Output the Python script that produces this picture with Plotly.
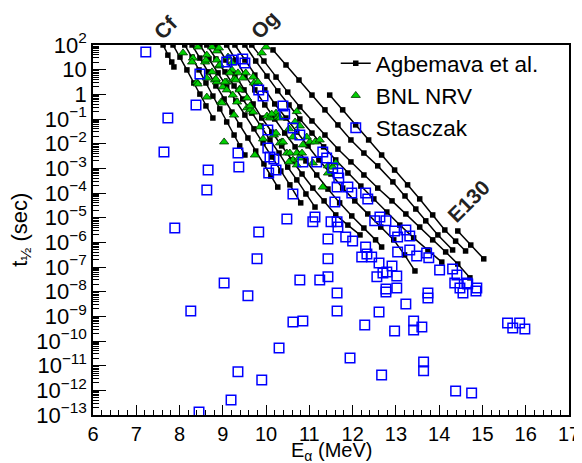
import plotly.graph_objects as go

# ---------------- Agbemava et al. isotopic chains (E_alpha [MeV], log10 t1/2 [s]) ----------------
chain_01_E = [7.62, 7.73, 7.82, 7.87]
chain_01_logt = [2.0, 1.59, 1.31, 1.11]
chain_02_E = [7.85, 8.01, 8.17, 8.33, 8.47, 8.61, 8.77]
chain_02_logt = [2.0, 1.51, 0.99, 0.46, 0.01, -0.47, -0.96]
chain_03_E = [8.12, 8.29, 8.45, 8.61, 8.77, 8.93, 9.09, 9.26, 9.39, 9.51]
chain_03_logt = [2.0, 1.51, 0.99, 0.46, -0.07, -0.59, -1.12, -1.65, -2.09, -2.46]
chain_04_E = [8.29, 8.47, 8.66, 8.84, 9.03, 9.21, 9.39, 9.58, 9.76, 9.95, 10.11, 10.27]
chain_04_logt = [2.0, 1.47, 0.91, 0.34, -0.19, -0.72, -1.24, -1.77, -2.30, -2.82, -3.31, -3.76]
chain_05_E = [8.47, 8.68, 8.89, 9.09, 9.30, 9.51, 9.72, 9.93, 10.13, 10.34, 10.55, 10.80]
chain_05_logt = [2.0, 1.43, 0.87, 0.30, -0.27, -0.84, -1.40, -1.97, -2.54, -3.11, -3.67, -4.40]
chain_06_E = [8.63, 8.84, 9.05, 9.26, 9.46, 9.67, 9.88, 10.09, 10.30, 10.50, 10.71, 10.92, 11.13]
chain_06_logt = [2.0, 1.43, 0.91, 0.34, -0.19, -0.76, -1.28, -1.85, -2.38, -2.95, -3.47, -4.04, -4.57]
chain_07_E = [8.86, 9.07, 9.28, 9.49, 9.70, 9.90, 10.13, 10.36, 10.60, 10.83, 11.08, 11.34, 11.61, 11.89, 12.17]
chain_07_logt = [2.0, 1.39, 0.78, 0.18, -0.39, -0.96, -1.53, -2.09, -2.66, -3.23, -3.80, -4.32, -4.89, -5.30, -5.70]
chain_08_E = [9.09, 9.30, 9.51, 9.74, 9.97, 10.20, 10.43, 10.67, 10.92, 11.17, 11.43, 11.70, 11.98, 12.26, 12.53, 12.67]
chain_08_logt = [2.0, 1.39, 0.78, 0.18, -0.43, -1.0, -1.57, -2.13, -2.70, -3.27, -3.84, -4.40, -4.93, -5.42, -5.90, -6.19]
chain_09_E = [9.28, 9.51, 9.74, 9.97, 10.20, 10.46, 10.71, 10.97, 11.22, 11.50, 11.77, 12.05, 12.35, 12.65, 12.95, 13.20, 13.44]
chain_09_logt = [2.0, 1.39, 0.78, 0.18, -0.39, -0.96, -1.53, -2.09, -2.66, -3.23, -3.80, -4.32, -4.85, -5.38, -5.90, -6.51, -7.16]
chain_10_E = [9.51, 9.76, 10.02, 10.27, 10.53, 10.78, 11.06, 11.33, 11.61, 11.89, 12.19, 12.49, 12.79, 13.09, 13.41, 13.74, 14.06]
chain_10_logt = [2.0, 1.35, 0.74, 0.14, -0.43, -1.0, -1.57, -2.13, -2.66, -3.19, -3.72, -4.24, -4.77, -5.30, -5.82, -6.31, -6.80]
chain_11_E = [9.67, 9.95, 10.23, 10.50, 10.78, 11.06, 11.36, 11.66, 11.96, 12.26, 12.58, 12.91, 13.23, 13.55, 13.85, 14.15, 14.43, 14.71]
chain_11_logt = [2.0, 1.35, 0.70, 0.09, -0.51, -1.08, -1.65, -2.22, -2.74, -3.27, -3.80, -4.32, -4.85, -5.38, -5.90, -6.39, -6.88, -7.44]
chain_12_E = [10.16, 10.46, 10.76, 11.06, 11.36, 11.66, 11.96, 12.26, 12.58, 12.93, 13.21, 13.46, 13.69, 13.97, 14.31]
chain_12_logt = [1.80, 1.19, 0.58, -0.03, -0.63, -1.24, -1.85, -2.38, -2.90, -3.55, -4.12, -4.65, -5.13, -5.70, -6.31]
chain_13_E = [11.47, 11.77, 12.07, 12.37, 12.67, 12.97, 13.27, 13.55, 13.85, 14.13, 14.38, 14.61]
chain_13_logt = [-0.03, -0.63, -1.24, -1.85, -2.46, -3.07, -3.67, -4.24, -4.89, -5.50, -5.95, -6.35]
chain_14_E = [14.43, 14.73, 15.03]
chain_14_logt = [-5.54, -6.11, -6.67]

# ---------------- BNL NRV data ----------------
bnl_E = [8.08, 8.42, 8.75, 8.86, 8.91, 8.31, 8.29, 8.59, 8.63, 8.86, 8.91, 9.21, 9.21, 9.35, 9.53, 9.46,
         8.40, 8.42, 8.63, 8.82, 8.86, 9.09, 9.00, 9.26, 9.39, 9.23, 8.96, 8.63, 9.56, 9.70, 9.72, 9.81,
         9.56, 9.63, 9.26, 9.03, 9.74, 9.86, 10.09, 10.23, 10.27, 10.18, 10.36, 10.48, 10.62, 10.67, 10.62,
         8.98, 9.63, 9.70, 10.02, 10.13, 10.32, 10.78, 9.93, 10.23, 10.32, 10.39, 10.55, 10.71, 10.83,
         10.53, 10.71, 10.76, 11.01, 11.13, 11.24, 10.94, 11.43, 11.54, 11.31, 9.39, 11.08, 11.43, 11.61,
         9.16, 8.75, 8.84, 9.05, 9.09, 9.30, 9.33, 8.93, 8.61, 9.12, 10.00, 9.90, 10.53, 10.71, 10.85]
bnl_logt = [1.68, 1.92, 1.92, 1.76, 1.88, 1.47, 1.31, 1.31, 1.59, 1.39, 1.15, 0.99, 1.27, 0.87, 0.87, 0.66,
            0.50, 0.42, 0.66, 0.58, 0.50, 0.50, 0.30, 0.62, 0.22, -0.03, -0.31, -0.11, -0.15, 0.70, 0.46, 0.50,
            -0.55, -0.63, -0.84, -1.93, -2.46, -1.32, -0.96, -0.76, -0.92, -1.65, -1.93, -2.38, -2.66, -1.12, -1.73,
            -0.35, -0.47, -0.72, -0.88, -0.80, -0.96, -1.28, -1.81, -1.57, -1.97, -1.93, -2.38, -2.38, -2.38,
            -2.74, -2.86, -2.58, -1.93, -1.93, -1.85, -1.73, -2.90, -2.95, -3.76, 0.18, -2.78, -3.19, -2.78,
            0.87, 0.91, 0.62, 0.50, 0.18, 0.58, -0.31, 1.19, 1.39, 1.51, 1.92, 1.68, -1.40, -0.70, -2.05]

# ---------------- Stasczak data ----------------
sta_E = [7.22, 7.73, 7.64, 8.38, 8.47, 9.09, 9.21, 9.46, 9.51, 9.83, 9.93, 10.39, 10.43, 10.04, 10.62, 10.78,
         10.04, 10.09, 10.18, 9.35, 9.37, 8.66, 8.63, 10.23, 10.06, 10.62, 10.48, 11.13, 11.08, 11.64, 11.50,
         11.66, 9.83, 10.85, 11.17, 11.31, 11.40, 11.54, 11.66, 11.68, 11.64, 11.89, 11.98, 11.59, 12.30,
         12.35, 11.43, 11.84, 12.00, 12.51, 12.63, 12.77, 12.97, 13.04, 13.23, 13.32, 12.30, 12.21, 12.33,
         12.44, 12.61, 12.91, 13.04, 13.32, 13.48, 13.71, 13.76, 14.01, 14.31, 14.41, 14.36, 14.64, 14.87,
         11.43, 11.43, 11.24, 10.78, 12.79, 13.02, 12.77, 13.02, 7.89, 9.79, 9.03, 9.58, 8.26, 10.62, 10.85,
         10.30, 9.35, 9.90, 9.19, 8.45, 12.56, 12.70, 11.64, 12.77, 13.74, 13.74, 14.48, 14.55, 14.66, 14.85,
         11.64, 12.28, 12.61, 13.23, 12.97, 13.41, 13.41, 13.60, 11.94, 12.67, 13.64, 13.64, 14.38, 14.75,
         15.58, 15.70, 15.86, 15.98]
sta_logt = [1.72, -0.96, -2.34, -0.43, 0.82, 1.31, 1.39, 1.43, 1.27, 0.18, -0.07, -0.47, -0.80, -1.45, -1.36, -1.65,
            -2.18, -2.54, -2.62, -2.38, -2.95, -3.07, -3.88, -3.07, -3.19, -4.04, -5.05, -4.97, -5.17, -5.17, -5.17,
            -5.38, -5.58, -2.74, -2.74, -2.34, -2.58, -2.99, -3.19, -3.39, -3.76, -3.76, -4.00, -4.36, -4.00,
            -4.24, -5.86, -5.78, -5.95, -5.13, -4.97, -5.13, -5.54, -5.78, -5.50, -5.74, -6.19, -6.59, -6.47,
            -6.59, -6.84, -6.96, -6.39, -6.31, -6.55, -6.43, -6.63, -7.12, -7.08, -7.32, -7.65, -7.65, -7.85,
            -6.67, -7.40, -7.53, -7.53, -7.20, -7.36, -7.89, -7.85, -5.42, -6.67, -7.65, -8.17, -8.78, -9.23, -9.19,
            -10.28, -11.25, -11.58, -12.39, -12.88, -7.40, -7.24, -8.05, -8.01, -8.05, -8.26, -7.85, -8.05, -7.69, -7.97,
            -8.78, -9.35, -8.82, -8.50, -9.59, -9.19, -9.55, -9.43, -10.69, -11.38, -10.85, -11.21, -12.03, -12.11,
            -9.27, -9.47, -9.27, -9.51]

# tick labels
y_exponents = list(range(-13, 3))
y_ticktext = ["10<sup>%s</sup>" % (str(k).replace("-", "\u2212")) if k not in (0, 1) else ("1" if k == 0 else "10")
              for k in y_exponents]
y_minor_mult = [2, 3, 4, 5, 6, 7, 8, 9]
x_ticks = list(range(6, 18))

chains = [
    (chain_01_E, chain_01_logt), (chain_02_E, chain_02_logt), (chain_03_E, chain_03_logt),
    (chain_04_E, chain_04_logt), (chain_05_E, chain_05_logt), (chain_06_E, chain_06_logt),
    (chain_07_E, chain_07_logt), (chain_08_E, chain_08_logt), (chain_09_E, chain_09_logt),
    (chain_10_E, chain_10_logt), (chain_11_E, chain_11_logt), (chain_12_E, chain_12_logt),
    (chain_13_E, chain_13_logt), (chain_14_E, chain_14_logt),
]
agb_x, agb_y = [], []
for E, L in chains:
    agb_x += list(E) + [None]
    agb_y += [10 ** v for v in L] + [None]

y_minor_vals = [m * 10.0 ** k for k in range(-13, 2) for m in y_minor_mult]

FONT = "Liberation Sans, Arial, Helvetica, sans-serif"

fig = go.Figure()
fig.add_trace(go.Scatter(
    x=agb_x, y=agb_y, mode="lines+markers", name="Agbemava et al.",
    line=dict(color="black", width=1.5),
    marker=dict(symbol="square", size=5.5, color="black"),
    connectgaps=False,
))
fig.add_trace(go.Scatter(
    x=bnl_E, y=[10 ** v for v in bnl_logt], mode="markers", name="BNL NRV",
    marker=dict(symbol="triangle-up", size=8, color="#00d000", line=dict(color="#003300", width=0.8)),
))
fig.add_trace(go.Scatter(
    x=sta_E, y=[10 ** v for v in sta_logt], mode="markers", name="Stasczak",
    marker=dict(symbol="square-open", size=9.5, color="#0000ff", line=dict(color="#0000ff", width=1.5)),
))

# the page body adds an 8 px offset; the figure is sized to fill the 582x463 window after it
fig.update_layout(
    width=574, height=455,
    margin=dict(l=85, r=13, t=37, b=48, autoexpand=False),
    paper_bgcolor="white", plot_bgcolor="white",
    font=dict(family=FONT, size=19, color="black"),
    showlegend=True,
    legend=dict(
        x=0.51, y=1.008, xanchor="left", yanchor="top",
        bgcolor="rgba(255,255,255,0)", borderwidth=0,
        font=dict(size=22.5, family=FONT, color="black"),
        tracegroupgap=0, itemwidth=30,
    ),
    xaxis=dict(
        range=[6, 17], tickvals=x_ticks, ticks="inside", ticklen=10, tickwidth=1, tickcolor="black",
        showline=True, linecolor="black", linewidth=1.5, mirror=True, showgrid=False, zeroline=False,
        minor=dict(ticks="inside", ticklen=5, dtick=0.2, tickcolor="black", showgrid=False),
        tickfont=dict(size=20, family=FONT), automargin=False,
    ),
    yaxis=dict(
        type="log", range=[-13, 2],
        tickvals=[10 ** k for k in y_exponents], ticktext=y_ticktext,
        ticks="inside", ticklen=13, tickwidth=1, tickcolor="black",
        showline=True, linecolor="black", linewidth=1.5, mirror=True, showgrid=False, zeroline=False,
        minor=dict(ticks="inside", ticklen=6, tickvals=y_minor_vals, tickcolor="black", showgrid=False),
        tickfont=dict(size=22, family=FONT), automargin=False,
    ),
    annotations=[
        dict(text="E<sub>α</sub> (MeV)", xref="paper", yref="paper", x=0.5, y=-0.098,
             xanchor="center", yanchor="middle", showarrow=False, font=dict(size=20, family=FONT)),
        dict(text="t<sub>½</sub> (sec)", xref="paper", yref="paper", x=-0.152, y=0.5,
             xanchor="center", yanchor="middle", showarrow=False, textangle=-90,
             font=dict(size=22, family=FONT)),
        dict(text="<b>Cf</b>", xref="paper", yref="paper", x=0.152, y=1.048, xanchor="center", yanchor="middle",
             showarrow=False, textangle=-45, font=dict(size=21, family=FONT, color="#222")),
        dict(text="<b>Og</b>", xref="paper", yref="paper", x=0.361, y=1.056, xanchor="center", yanchor="middle",
             showarrow=False, textangle=-45, font=dict(size=21, family=FONT, color="#222")),
        dict(text="<b>E130</b>", xref="paper", yref="paper", x=0.788, y=0.578, xanchor="center", yanchor="middle",
             showarrow=False, textangle=-45, font=dict(size=21, family=FONT, color="#222")),
    ],
)

fig.write_html("out.html")
